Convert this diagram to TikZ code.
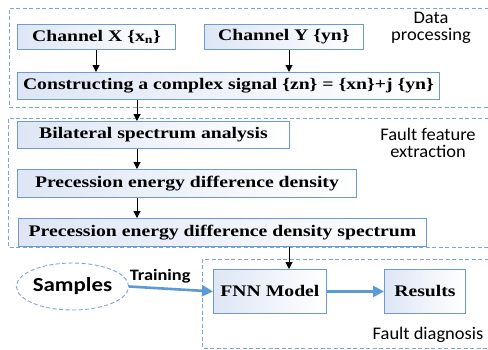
\documentclass[tikz,border=0pt]{standalone}
\usepackage{fontspec}
\setmainfont[FakeStretch=1.22]{Liberation Serif}
\newfontfamily\labelfont[FakeStretch=1.04]{Carlito}
\newfontfamily\strongfont[FakeStretch=1.15]{Carlito}
\usetikzlibrary{arrows.meta,shapes.geometric}
\definecolor{boxblue}{RGB}{108,155,210}
\definecolor{dashblue}{RGB}{125,165,212}
\definecolor{fillblue}{RGB}{222,230,245}
\definecolor{arrowblue}{RGB}{91,155,213}
\tikzset{
  stepbox/.style={draw=boxblue, line width=0.9bp, left color=fillblue, right color=white,
    font=\bfseries\fontsize{16.2}{18}\selectfont, inner sep=0pt, anchor=north west},
  groupbox/.style={draw=dashblue, line width=0.9bp, dash pattern=on 4bp off 2.5bp},
  flow/.style={-{Triangle[length=7bp,width=7bp]}, line width=1bp, black},
  bluearrow/.style={-{Triangle[length=11bp,width=11bp]}, line width=2.6bp, arrowblue},
  grouplabel/.style={font=\labelfont\fontsize{17.8}{17.5}\selectfont, align=center, inner sep=0pt}
}
\begin{document}
\begin{tikzpicture}[x=1bp,y=-1bp]
\clip (0,0) rectangle (488,349);
\fill[white] (0,0) rectangle (488,349);

% dashed group frames (open to the right)
\draw[groupbox] (495,8) -- (9,8) -- (9,107) -- (495,107);
\draw[groupbox] (495,118) -- (8,118) -- (8,247) -- (495,247);
\draw[groupbox] (495,259) -- (202,259) -- (202,348) -- (495,348);

% data processing
\node[stepbox, minimum width=158bp, minimum height=25bp] (chx) at (17,24) {Channel X \{x\textsubscript{n}\}};
\node[stepbox, minimum width=159bp, minimum height=25bp] (chy) at (204,24) {Channel Y \{yn\}};
\node[stepbox, minimum width=422bp, minimum height=27bp] (cplx) at (17,72) {Constructing a complex signal \{zn\} = \{xn\}+j \{yn\}};

% fault feature extraction
\node[stepbox, minimum width=272bp, minimum height=27bp] (bsa) at (17,121) {Bilateral spectrum analysis};
\node[stepbox, minimum width=339bp, minimum height=28bp] (pedd) at (17,169) {Precession energy difference density};
\node[stepbox, minimum width=408bp, minimum height=28bp] (pedds) at (18,218) {Precession energy difference density spectrum};

% fault diagnosis
\node[stepbox, minimum width=113bp, minimum height=44bp] (fnn) at (213,269) {FNN Model};
\node[stepbox, minimum width=81bp, minimum height=44bp] (res) at (384,269) {Results};
\node[draw=dashblue, line width=0.9bp, dash pattern=on 4bp off 2.5bp, ellipse,
      minimum width=111bp, minimum height=47bp, inner sep=0pt,
      font=\strongfont\bfseries\fontsize{20}{20}\selectfont] (smp) at (72.5,286.5) {Samples};

% group labels
\node[grouplabel] (lab1) at (431,28) {Data\\processing};
\node[grouplabel] (lab2) at (428,143) {Fault feature\\extraction};
\node[grouplabel] (lab3) at (428,335) {Fault diagnosis};

% connectors
\draw[flow] (chx.south -| 96,0) -- (cplx.north -| 96,0);
\draw[flow] (chy.south -| 289,0) -- (cplx.north -| 289,0);
\draw[flow] (cplx.south -| 137,0) -- (bsa.north -| 137,0);
\draw[flow] (bsa.south -| 137,0) -- (pedd.north -| 137,0);
\draw[flow] (pedd.south -| 137,0) -- (pedds.north -| 137,0);
\draw[flow] (pedds.south -| 289,0) -- (fnn.north -| 289,0);
\draw[bluearrow] (smp.east) -- node[pos=0.37, above=1bp, black, font=\strongfont\bfseries\fontsize{16}{16}\selectfont] (trn) {Training} (fnn.west);
\draw[bluearrow] (fnn.east) -- (res.west);
\end{tikzpicture}
\end{document}
